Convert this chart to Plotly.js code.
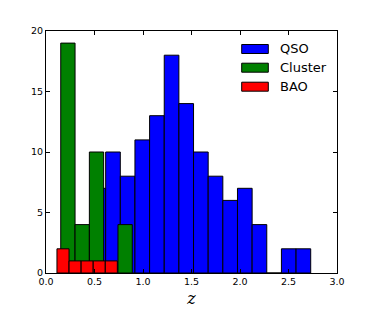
<!DOCTYPE html>
<html>
<head>
<meta charset="utf-8">
<script src="https://cdn.plot.ly/plotly-3.0.1.min.js"></script>
<style>html,body{margin:0;padding:0;background:#fff;}#chart{width:374px;height:312px;}</style>
</head>
<body>
<div id="chart"></div>
<script>
// Histogram data (bin start, bin width, counts)
const seriesNames = ["QSO", "Cluster", "BAO"];
const seriesColors = ["#0000ff", "#008000", "#ff0000"];
const qsoBinStart = 0.464;
const qsoBinWidth = 0.151;
const qsoCounts = [7, 10, 8, 11, 13, 18, 14, 10, 8, 6, 7, 4, 0, 2, 2];
const clusterBinStart = 0.152;
const clusterBinWidth = 0.1475;
const clusterCounts = [19, 4, 10, 0, 4];
const baoBinStart = 0.113;
const baoBinWidth = 0.1245;
const baoCounts = [2, 1, 1, 1, 1];
const xTickVals = [0.0, 0.5, 1.0, 1.5, 2.0, 2.5, 3.0];
const xTickText = ["0.0", "0.5", "1.0", "1.5", "2.0", "2.5", "3.0"];
const yTickVals = [0, 5, 10, 15, 20];

function barTrace(start, width, counts, name, color) {
  const x = counts.map((_, i) => start + width * (i + 0.5));
  return {
    type: "bar", x: x, y: counts, width: counts.map(() => width),
    name: name, showlegend: false,
    marker: {color: color, line: {color: "#000", width: 1}}
  };
}

const data = [
  barTrace(qsoBinStart, qsoBinWidth, qsoCounts, seriesNames[0], seriesColors[0]),
  barTrace(clusterBinStart, clusterBinWidth, clusterCounts, seriesNames[1], seriesColors[1]),
  barTrace(baoBinStart, baoBinWidth, baoCounts, seriesNames[2], seriesColors[2])
];

// manual matplotlib-style legend (patches + labels)
const shapes = [];
const annotations = [];
const legendY = [49, 67.7, 86.7];
const plotTop = 31, plotH = 242, plotL = 46, plotW = 291;
seriesNames.forEach((n, i) => {
  const yc = 1 - (legendY[i] - plotTop) / plotH;
  const h = 9 / plotH / 2;
  shapes.push({type: "rect", xref: "paper", yref: "paper",
    x0: (241.7 - plotL) / plotW, x1: (268.3 - plotL) / plotW,
    y0: yc - h, y1: yc + h,
    fillcolor: seriesColors[i], line: {color: "#000", width: 1}});
  annotations.push({xref: "paper", yref: "paper", x: (278 - plotL) / plotW, y: yc,
    xanchor: "left", yanchor: "middle", showarrow: false, text: n,
    font: {family: "DejaVu Sans", size: 13, color: "#000"}});
});

const layout = {
  width: 374, height: 312,
  margin: {l: 46, r: 37, t: 31, b: 39},
  paper_bgcolor: "#fff", plot_bgcolor: "#fff",
  barmode: "overlay", bargap: 0, showlegend: false,
  font: {family: "DejaVu Sans", size: 9, color: "#000"},
  xaxis: {
    range: [0, 3], tickvals: xTickVals, ticktext: xTickText,
    ticks: "inside", ticklen: 4, tickcolor: "#000", mirror: "allticks",
    showline: true, linecolor: "#000", linewidth: 1, showgrid: false, zeroline: false,
    tickfont: {size: 9.5},
    title: {text: "z", font: {family: "DejaVu Serif", size: 16, style: "italic"}, standoff: 6}
  },
  yaxis: {
    range: [0, 20], tickvals: yTickVals,
    ticks: "inside", ticklen: 4, tickcolor: "#000", mirror: "allticks",
    showline: true, linecolor: "#000", linewidth: 1, showgrid: false, zeroline: false,
    tickfont: {size: 9.5}
  },
  shapes: shapes,
  annotations: annotations
};

Plotly.newPlot("chart", data, layout, {displayModeBar: false, staticPlot: true});
</script>
</body>
</html>
